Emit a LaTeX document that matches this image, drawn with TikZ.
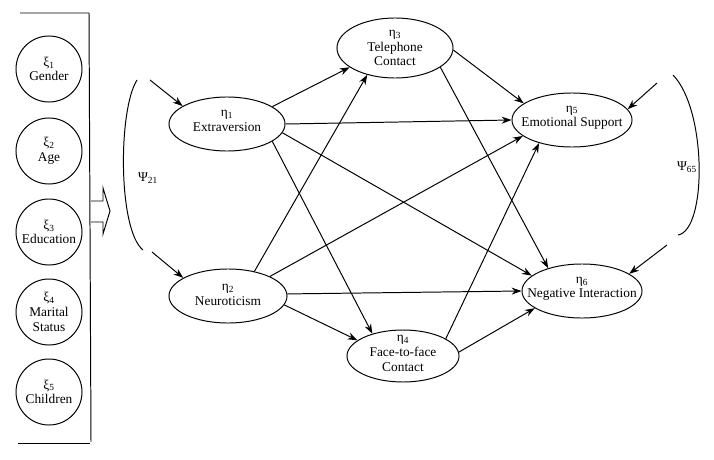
\documentclass[tikz,border=0pt]{standalone}
\usepackage{fontspec}
\setmainfont{Liberation Serif}
\usetikzlibrary{arrows.meta,shapes.geometric}

\begin{document}
\begin{tikzpicture}[x=0.025cm,y=-0.025cm,line width=0.7pt,
  >={Stealth[length=7pt,width=5pt]},
  font=\fontsize{9.5}{10.5}\selectfont,
  exo/.style={circle,draw,align=center,inner sep=0pt,minimum size=1.65cm},
  latent/.style={ellipse,draw,inner sep=0pt},
  lbl/.style={align=center,inner sep=0pt}]
\useasboundingbox (0,0) rectangle (714,459);

% exogenous variables
\draw (20,13) -- (89,13) -- (91,442);
\draw (18,443) -- (90,443);
\node[exo] (xi1) at (49,69)  {ξ\textsubscript{1}\\Gender};
\node[exo] (xi2) at (49,151) {ξ\textsubscript{2}\\Age};
\node[exo] (xi3) at (49,232) {ξ\textsubscript{3}\\Education};
\node[exo] (xi4) at (49,312) {ξ\textsubscript{4}\\Marital\\Status};
\node[exo] (xi5) at (49,392) {ξ\textsubscript{5}\\Children};
\draw (91,201) -- (103,201) -- (103,188) -- (110,211) -- (103,234) -- (103,222) -- (91,222);

% endogenous variables
\node[latent,minimum width=2.9cm,minimum height=1.35cm] (eta1) at (227,124) {};
\node[lbl] (eta1t) at ([yshift=2pt]eta1) {η\textsubscript{1}\\Extraversion};
\node[latent,minimum width=2.95cm,minimum height=1.35cm] (eta2) at (228,296) {};
\node[lbl] (eta2t) at ([yshift=1pt]eta2) {η\textsubscript{2}\\Neuroticism};
\node[latent,minimum width=2.9cm,minimum height=1.5cm] (eta3) at (395,48) {};
\node[lbl] (eta3t) at (eta3) {η\textsubscript{3}\\Telephone\\Contact};
\node[latent,minimum width=2.8cm,minimum height=1.3cm] (eta4) at (403,356) {};
\node[lbl] (eta4t) at ([yshift=2pt]eta4) {η\textsubscript{4}\\Face-to-face\\Contact};
\node[latent,minimum width=3cm,minimum height=1.35cm] (eta5) at (572,120) {};
\node[lbl] (eta5t) at ([yshift=1.5pt]eta5) {η\textsubscript{5}\\Emotional Support};
\node[latent,minimum width=3cm,minimum height=1.35cm] (eta6) at (582,291) {};
\node[lbl] (eta6t) at ([yshift=1.5pt]eta6) {η\textsubscript{6}\\Negative Interaction};

% paths
\path[->]
  (eta1.21)  edge (eta3.203)
  (eta1.0)   edge (eta5.180)
  (eta1.-9)  edge (eta6.163)
  (eta1.-21) edge (eta4.144)
  (eta2.43)  edge (eta3.224)
  (eta2.25)  edge (eta5.198)
  (eta2.2)   edge (eta6.180)
  (eta2.-9)  edge (eta4.161)
  (eta3.-2)  edge (eta5.161)
  (eta3.-23) edge (eta6.146)
  (eta4.22)  edge (eta5.215)
  (eta4.4)   edge (eta6.200);

% disturbances
\coordinate (in1) at (150,80);
\coordinate (in2) at (152,252);
\coordinate (in5) at (657,83);
\coordinate (in6) at (667,245);
\draw[->] (in1) -- (eta1.158);
\draw[->] (in2) -- (eta2.158);
\draw[->] (in5) -- (eta5.11);
\draw[->] (in6) -- (eta6.20);
\draw (137,80) .. controls (118,110) and (118,230) .. (143,250);
\node (psi21) at (148,178) {Ψ\textsubscript{21}};
\draw (673,75) .. controls (707,110) and (707,230) .. (678,235);
\node (psi65) at (687,167) {Ψ\textsubscript{65}};
\end{tikzpicture}
\end{document}
